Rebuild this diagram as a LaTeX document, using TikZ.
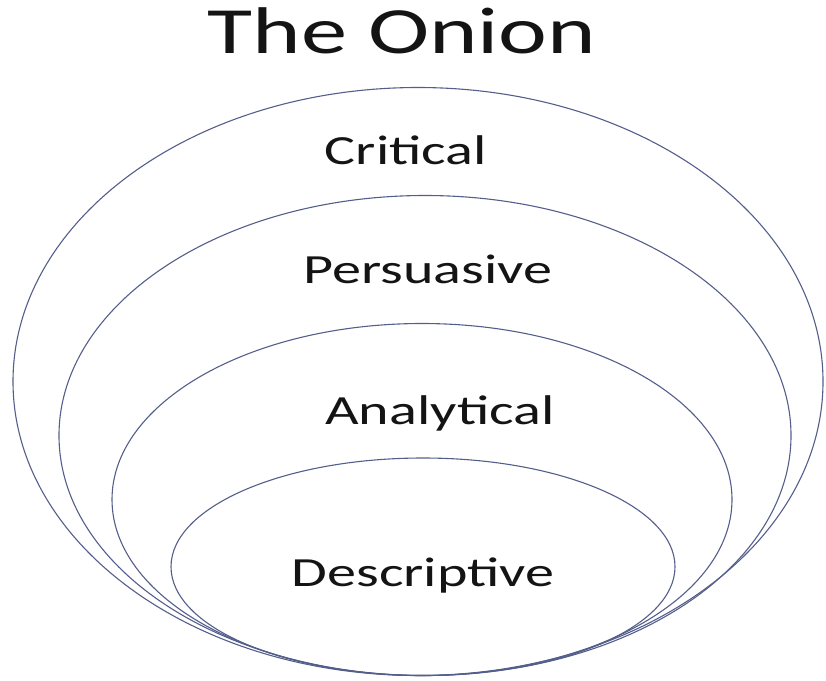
\documentclass[tikz,border=0pt]{standalone}
\usepackage{fontspec}
\setmainfont{Carlito}
\usetikzlibrary{positioning}
\definecolor{ringline}{RGB}{84,94,138}
\definecolor{inktext}{RGB}{20,20,20}
\newcommand{\wide}[1]{\scalebox{1.4}[1]{#1}}

\begin{document}
\begin{tikzpicture}[x=1pt,y=-1pt]
\tikzstyle{ring}=[draw=ringline, line width=1.1pt]
\tikzstyle{layer}=[text=inktext, inner sep=0pt,
                   font=\fontsize{41.5}{48}\selectfont]
\useasboundingbox (0,0) rectangle (826,680);
% rings, outer to inner, all resting on the same bottom
\foreach \cx/\cy/\rx/\ry in {418/381.5/405/294, 425/435.5/366/240,
                             422/499.5/310/176, 423/566.75/252/108.75}{
  \draw[ring] (\cx,\cy) ellipse [x radius=\rx, y radius=\ry];}
% labels
\node[layer, font=\fontsize{66}{70}\selectfont] (title) at (402,31){\wide{The Onion}};
\node[layer] (critical) at (406,150){\wide{Critical}};
\node[layer] (persuasive) at (428,269){\wide{Persuasive}};
\node[layer] (analytical) at (440,413){\wide{Analytical}};
\node[layer] (descriptive) at (423,575){\wide{Descriptive}};
\end{tikzpicture}
\end{document}
